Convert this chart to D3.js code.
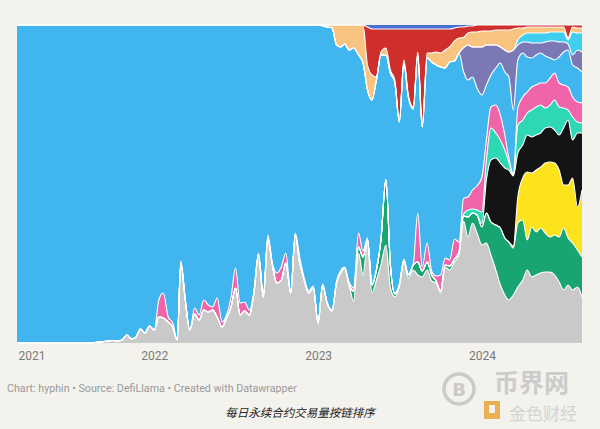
<!DOCTYPE html>
<html><head><meta charset="utf-8">
<script src="https://cdn.jsdelivr.net/npm/d3@7"></script>
<style>
html,body{margin:0;padding:0;background:#f3f2ec;}
svg{display:block;}
</style></head><body>
<svg id="chart" width="600" height="429"></svg>
<script>
// Sample dates (1st, 11th, 21st of each month)
const dates = [
"2021-03-01","2021-03-11","2021-03-21","2021-04-01","2021-04-11","2021-04-21","2021-05-01","2021-05-11","2021-05-21","2021-06-01","2021-06-11","2021-06-21","2021-07-01","2021-07-11","2021-07-21","2021-08-01","2021-08-11","2021-08-21","2021-09-01","2021-09-11","2021-09-21","2021-10-01","2021-10-11","2021-10-21","2021-11-01","2021-11-11","2021-11-21","2021-12-01","2021-12-11","2021-12-21",
"2022-01-01","2022-01-11","2022-01-21","2022-02-01","2022-02-11","2022-02-21","2022-03-01","2022-03-11","2022-03-21","2022-04-01","2022-04-11","2022-04-21","2022-05-01","2022-05-11","2022-05-21","2022-06-01","2022-06-11","2022-06-21","2022-07-01","2022-07-11","2022-07-21","2022-08-01","2022-08-11","2022-08-21","2022-09-01","2022-09-11","2022-09-21","2022-10-01","2022-10-11","2022-10-21","2022-11-01","2022-11-11","2022-11-21","2022-12-01","2022-12-11","2022-12-21",
"2023-01-01","2023-01-11","2023-01-21","2023-02-01","2023-02-11","2023-02-21","2023-03-01","2023-03-11","2023-03-21","2023-04-01","2023-04-11","2023-04-21","2023-05-01","2023-05-11","2023-05-21","2023-06-01","2023-06-11","2023-06-21","2023-07-01","2023-07-11","2023-07-21","2023-08-01","2023-08-11","2023-08-21","2023-09-01","2023-09-11","2023-09-21","2023-10-01","2023-10-11","2023-10-21","2023-11-01","2023-11-11","2023-11-21","2023-12-01","2023-12-11","2023-12-21",
"2024-01-01","2024-01-11","2024-01-21","2024-02-01","2024-02-11","2024-02-21","2024-03-01","2024-03-11","2024-03-21","2024-04-01","2024-04-11","2024-04-21","2024-05-01","2024-05-11","2024-05-21","2024-06-01","2024-06-11","2024-06-21","2024-07-01","2024-07-11","2024-07-21","2024-08-01","2024-08-11"
];

// Relative daily perp volume per chain (normalised to 100% per day), bottom to top
const gray = [
0,0,0, 0,0,0, 0,0,0, 0,0,0, 0,0,0, 0,0,0.5, 1,1.5,2, 2.5,2,3, 8,4,6, 14,10,17,
13,26,25, 21,16,3, 80,43,13, 29,23,33, 31,33,26, 16,25,36, 55,28,32, 28,50,88, 46,105,78, 60,63,80, 50,108,80, 63,50,56,
20,58,40, 32,60,71, 75,58,42, 90,68,100, 50,63,78, 98,55,46, 56,81,65, 73,68,66, 73,62,60, 50,76,73, 81,88,118, 106,120,110,
98,100,88, 73,58,48, 43,48,56, 63,73,66, 68,70,71, 71,68,61, 53,58,53, 56,46];
const green = [
0,0,0, 0,0,0, 0,0,0, 0,0,0, 0,0,0, 0,0,0, 0,0,0, 0,0,0, 0,0,0, 0,0,0,
0,0,0, 0,0,0, 0,0,0, 0,0,0, 0,0,0, 0,0,0, 0,0,0, 0,0,0, 0,0,0, 0,0,0, 0,0,0, 0,0,0,
0,0,0, 0,0,0, 0,0,10, 6,18,3, 8,10,25, 65,23,3, 2,1,3, 5,13,6, 8,6,2, 2,2,4, 3,3,5, 20,10,18,
18,30,33, 45,57,57, 58,47,64, 60,30,50, 43,45,39, 35,40,45, 62,47,47, 37,40];
const yellow = [
0,0,0, 0,0,0, 0,0,0, 0,0,0, 0,0,0, 0,0,0, 0,0,0, 0,0,0, 0,0,0, 0,0,0,
0,0,0, 0,0,0, 0,0,0, 0,0,0, 0,0,0, 0,0,0, 0,0,0, 0,0,0, 0,0,0, 0,0,0, 0,0,0, 0,0,0,
0,0,0, 0,0,0, 0,0,0, 0,0,0, 0,0,0, 0,0,0, 0,0,0, 0,0,0, 0,0,0, 0,0,0, 0,0,0, 0,0,0,
0,0,0, 0,0,0, 0,2,26, 42,68,54, 62,61,70, 75,72,67, 43,53,65, 43,67];
const black = [
0,0,0, 0,0,0, 0,0,0, 0,0,0, 0,0,0, 0,0,0, 0,0,0, 0,0,0, 0,0,0, 0,0,0,
0,0,0, 0,0,0, 0,0,0, 0,0,0, 0,0,0, 0,0,0, 0,0,0, 0,0,0, 0,0,0, 0,0,0, 0,0,0, 0,0,0,
0,0,0, 0,0,0, 0,0,0, 0,0,0, 0,0,0, 0,0,0, 0,0,0, 0,0,0, 0,0,0, 0,0,0, 0,0,0, 0,0,0,
3,33,62, 67,65,70, 72,70,44, 33,37,36, 35,34,35, 35,33,35, 57,65,38, 74,57];
const teal = [
0,0,0, 0,0,0, 0,0,0, 0,0,0, 0,0,0, 0,0,0, 0,0,0, 0,0,0, 0,0,0, 0,0,0,
0,0,0, 0,0,0, 0,0,0, 0,0,0, 0,0,0, 0,0,0, 0,0,0, 0,0,0, 0,0,0, 0,0,0, 0,0,0, 0,0,0,
0,0,0, 0,0,0, 0,0,0, 0,0,0, 0,0,0, 0,0,0, 0,0,0, 0,0,0, 0,0,0, 0,0,0, 0,0,2, 7,4,5,
12,20,32, 25,23,18, 8,1,28, 25,22,27, 28,28,20, 22,30,28, 20,10,23, 11,10];
const pink = [
0,0,0, 0,0,0, 0,0,0, 0,0,0, 0,0,0, 0,0,0, 0,0,0, 0,0,0, 0,0,0, 0,0,0,
0,17,25, 5,4,0, 2,0,0, 6,5,10, 7,3,19, 5,3,10, 20,12,9, 5,2,2, 4,3,2, 10,13,10, 2,2,6, 2,2,1,
2,1,1, 1,2,2, 1,3,3, 14,6,2, 1,1,1, 1,1,1, 1,2,1, 1,49,4, 19,4,5, 16,7,6, 20,10,15, 13,19,24,
35,20,21, 28,25,15, 4,1,17, 23,21,23, 22,22,25, 27,27,24, 23,23,20, 20,20];
const lightblue = [
318,318,318, 318,318,318, 318,318,318, 318,318,318, 318,318,318, 318,318,317.5, 317,316.5,316, 315.5,316,315, 310,314,312, 304,308,301,
305,275,268, 292,298,315, 236,275,305, 283,290,275, 280,282,273, 297,290,272, 243,278,277, 285,266,228, 268,210,238, 248,242,228, 266,208,232, 253,266,261,
296,258,275, 282,236,223, 223,232,240, 178,188,148, 184,189,184, 124,191,210, 162,196,177, 155,158,140, 185,209,211, 208,190,198, 178,189,123, 117,113,98,
82,55,32, 37,52,63, 81,64,48, 44,35,29, 30,30,27, 20,13,26, 33,37,32, 34,31];
const purple = [
0,0,0, 0,0,0, 0,0,0, 0,0,0, 0,0,0, 0,0,0, 0,0,0, 0,0,0, 0,0,0, 0,0,0,
0,0,0, 0,0,0, 0,0,0, 0,0,0, 0,0,0, 0,0,0, 0,0,0, 0,0,0, 0,0,0, 0,0,0, 0,0,0, 0,0,0,
0,0,0, 0,0,0, 0,0,0, 0,0,0, 0,0,0, 0,0,0, 0,0,0, 0,0,0, 0,0,0, 0,0,0, 0,0,23, 35,30,41,
48,40,30, 23,16,22, 25,60,15, 11,15,15, 12,10,14, 17,19,15, 10,6,10, 18,20];
const cyan = [
0,0,0, 0,0,0, 0,0,0, 0,0,0, 0,0,0, 0,0,0, 0,0,0, 0,0,0, 0,0,0, 0,0,0,
0,0,0, 0,0,0, 0,0,0, 0,0,0, 0,0,0, 0,0,0, 0,0,0, 0,0,0, 0,0,0, 0,0,0, 0,0,0, 0,0,0,
0,0,0, 0,0,0, 0,0,0, 0,0,0, 0,0,0, 0,0,0, 0,0,0, 0,0,0, 0,0,0, 0,0,0, 0,0,0, 0,0,0,
0,0,0, 0,0,0, 0,0,5, 7,9,10, 10,10,9, 9,9,10, 10,4,23, 17,19];
const tan = [
0,0,0, 0,0,0, 0,0,0, 0,0,0, 0,0,0, 0,0,0, 0,0,0, 0,0,0, 0,0,0, 0,0,0,
0,0,0, 0,0,0, 0,0,0, 0,0,0, 0,0,0, 0,0,0, 0,0,0, 0,0,0, 0,0,0, 0,0,0, 0,0,0, 0,0,0,
0,1,2, 3,20,22, 19,25,23, 30,38,25, 25,3,3, 7,3,3, 2,3,2, 2,3,2, 5,9,13, 14,18,15, 20,15,10, 12,15,15,
16,14,14, 15,17,20, 22,21,12, 7,6,6, 6,6,6, 5,5,5, 5,2,5, 5,5];
const red = [
0,0,0, 0,0,0, 0,0,0, 0,0,0, 0,0,0, 0,0,0, 0,0,0, 0,0,0, 0,0,0, 0,0,0,
0,0,0, 0,0,0, 0,0,0, 0,0,0, 0,0,0, 0,0,0, 0,0,0, 0,0,0, 0,0,0, 0,0,0, 0,0,0, 0,0,0,
0,0,0, 0,0,0, 0,0,0, 0,0,38, 46,48,23, 19,41,51, 91,31,66, 78,23,96, 24,24,23, 24,21,18, 13,11,10, 7,6,7,
6,6,6, 5,5,5, 5,4,3, 3,2,2, 2,2,2, 2,2,2, 2,13,2, 3,3];
const blue = [
0,0,0, 0,0,0, 0,0,0, 0,0,0, 0,0,0, 0,0,0, 0,0,0, 0,0,0, 0,0,0, 0,0,0,
0,0,0, 0,0,0, 0,0,0, 0,0,0, 0,0,0, 0,0,0, 0,0,0, 0,0,0, 0,0,0, 0,0,0, 0,0,0, 0,0,0,
0,0,0, 0,0,0, 0,0,0, 0,0,2, 4,4,4, 4,4,4, 4,4,4, 4,4,4, 4,4,4, 4,4,4, 3,2,2, 1,1,0,
0,0,0, 0,0,0, 0,0,0, 0,0,0, 0,0,0, 0,0,0, 0,0,0, 0,0];

const seriesKeys = ["gray","green","yellow","black","teal","pink","lightblue","purple","cyan","tan","red","blue"];
const seriesColors = ["#c9c9c9","#19a572","#fde31b","#141414","#2fd8b4","#f064a9","#40b5ee","#7a79b5","#3fcdf0","#f8c480","#cf2f2c","#4c6fd6"];
const yearTicks = ["2021-03-01","2022-01-01","2023-01-01","2024-01-01"];
const footerText = "Chart: hyphin • Source: DefiLlama • Created with Datawrapper";
const captionText = "每日永续合约交易量按链排序";

const values = {gray, green, yellow, black, teal, pink, lightblue, purple, cyan, tan, red, blue};
const parse = d3.timeParse("%Y-%m-%d");
const table = dates.map((d, i) => {
  const r = {date: parse(d)};
  seriesKeys.forEach(k => r[k] = values[k][i]);
  return r;
});

const W = 600, H = 429;
const svg = d3.select("#chart");
svg.append("rect").attr("width", W).attr("height", H).attr("fill", "#f3f2ec");

const x = d3.scaleTime().domain(d3.extent(table, d => d.date)).range([17, 582]);
const y = d3.scaleLinear().domain([0, 1]).range([343, 25]);

const layers = d3.stack().keys(seriesKeys).order(d3.stackOrderNone).offset(d3.stackOffsetExpand)(table);

const area = d3.area().x(d => x(d.data.date)).y0(d => y(d[0])).y1(d => y(d[1])).curve(d3.curveMonotoneX);
svg.append("g").selectAll("path").data(layers).join("path")
  .attr("d", area).attr("fill", (d, i) => seriesColors[i]);

const line = d3.line().x(d => x(d.data.date)).y(d => y(d[1])).curve(d3.curveMonotoneX);
svg.append("g").selectAll("path").data(layers.slice(0, -1)).join("path")
  .attr("d", line).attr("fill", "none").attr("stroke", "#ffffff").attr("stroke-width", 1.1);

// x axis
const axis = d3.axisBottom(x).tickValues(yearTicks.map(parse)).tickFormat(d3.timeFormat("%Y")).tickSize(0).tickPadding(8);
const gx = svg.append("g").attr("transform", "translate(0,343)").call(axis);
gx.select(".domain").remove();
gx.selectAll("text").attr("font-family", "Roboto, sans-serif").attr("font-size", 12).attr("fill", "#7a7a7a");
gx.selectAll(".tick").filter((d, i) => i === 0).select("text").attr("text-anchor", "start").attr("x", 1);

// footer
svg.append("text").attr("x", 7).attr("y", 392).attr("font-family", "Roboto, sans-serif")
  .attr("font-size", 10.7).attr("fill", "#9a9a9a").text(footerText);
svg.append("text").attr("x", 300).attr("y", 417).attr("text-anchor", "middle")
  .attr("font-family", "'Noto Sans CJK SC', sans-serif").attr("font-style", "italic")
  .attr("font-size", 11.5).attr("fill", "#222").text(captionText);

// watermarks
const wm = svg.append("g").attr("opacity", 0.85);
wm.append("circle").attr("cx", 459).attr("cy", 389).attr("r", 15).attr("fill", "none").attr("stroke", "#c4c4c4").attr("stroke-width", 3.5);
wm.append("text").attr("x", 459).attr("y", 396).attr("text-anchor", "middle").attr("font-family", "DejaVu Sans, sans-serif")
  .attr("font-weight", "bold").attr("font-size", 18).attr("fill", "#c4c4c4").text("B");
wm.append("text").attr("x", 494).attr("y", 392).attr("font-family", "'Noto Sans CJK SC', sans-serif")
  .attr("font-weight", "bold").attr("font-size", 25).attr("fill", "#c6c6c6").text("币界网");
wm.append("rect").attr("x", 484).attr("y", 401).attr("width", 16).attr("height", 18).attr("fill", "#e8a53a");
wm.append("rect").attr("x", 489).attr("y", 405).attr("width", 6).attr("height", 8).attr("fill", "#f3f2ec");
wm.append("text").attr("x", 509).attr("y", 420).attr("font-family", "'Noto Sans CJK SC', sans-serif")
  .attr("font-size", 17).attr("fill", "#cfcfcf").text("金色财经");
</script>
</body></html>
